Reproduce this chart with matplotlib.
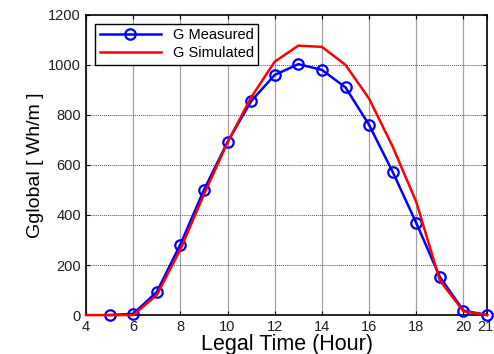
import matplotlib.pyplot as plt
import matplotlib.transforms as mtransforms

plt.rcParams['font.family'] = ['Liberation Sans', 'DejaVu Sans']

# hours and irradiation values
hours_meas = [5, 6, 7, 8, 9, 10, 11, 12, 13, 14, 15, 16, 17, 18, 19, 20, 21]
g_measured = [0, 5, 92, 282, 500, 692, 855, 960, 1003, 980, 910, 760, 572, 368, 152, 18, 0]
hours_sim = [4, 5, 6, 7, 8, 9, 10, 11, 12, 13, 14, 15, 16, 17, 18, 19, 20, 21]
g_simulated = [0, 0, 0, 80, 262, 482, 690, 870, 1013, 1077, 1072, 1000, 865, 673, 452, 138, 15, 0]

xticks = [4, 6, 8, 10, 12, 14, 16, 18, 20, 21]
yticks = [0, 200, 400, 600, 800, 1000, 1200]

fig = plt.figure(figsize=(4.94, 3.54), dpi=100)
ax = fig.add_axes([0.174, 0.110, 0.812, 0.848])

# grid: vertical solid grey, horizontal dotted
for x in xticks[:-1]:
    ax.axvline(x, color='#a0a0a0', lw=0.9, zorder=0)
for y in yticks[1:-1]:
    ax.axhline(y, color='#505050', lw=0.7, ls=(0, (1, 1)), zorder=0)

ax.plot(hours_meas, g_measured, color='blue', lw=1.8, marker='o', ms=7.5,
        mfc='none', mec='blue', mew=1.6, label='G Measured', clip_on=False, zorder=3)
ax.plot(hours_sim, g_simulated, color='red', lw=1.8, label='G Simulated',
        clip_on=False, zorder=4)

ax.set_xlim(4, 21)
ax.set_ylim(0, 1200)
ax.set_xticks(xticks)
ax.set_yticks(yticks)
ax.tick_params(direction='in', top=True, right=True, labelsize=10.5, length=3, width=0.8,
               labelcolor='#202020')
for s in ax.spines.values():
    s.set_linewidth(1.2)

# nudge last label so it stays inside the figure
lbl = ax.get_xticklabels()[-1]
lbl.set_transform(lbl.get_transform() + mtransforms.ScaledTranslation(-2 / 100, 0, fig.dpi_scale_trans))

ax.set_xlabel('Legal Time (Hour)', fontsize=15.5, labelpad=0)
ax.set_ylabel('Gglobal [ Wh/m ]', fontsize=14, labelpad=3)

leg = ax.legend(loc='upper left', fontsize=10.5, fancybox=False, framealpha=1,
                edgecolor='black', borderpad=0.3, handlelength=4.2, labelspacing=0.3,
                bbox_to_anchor=(0.005, 0.995))
leg.get_frame().set_linewidth(1.0)

fig.savefig('out.png', dpi=100)
